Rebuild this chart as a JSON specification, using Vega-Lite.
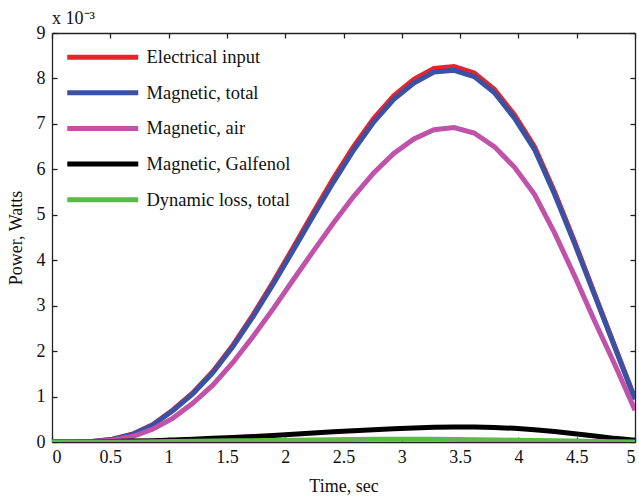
{
  "$schema": "https://vega.github.io/schema/vega-lite/v6.json",
  "width": 583,
  "height": 409,
  "autosize": {"type": "none"},
  "padding": {"left": 52, "top": 33, "right": 4, "bottom": 57},
  "background": "white",
  "config": {
    "view": {"stroke": null},
    "font": "Liberation Serif",
    "axis": {
      "labelFont": "Liberation Serif",
      "labelFontSize": 18,
      "labelColor": "#111",
      "titleFont": "Liberation Serif",
      "titleFontSize": 18,
      "titleFontWeight": "normal",
      "titleColor": "#111",
      "domainColor": "#222",
      "domainWidth": 1.3,
      "tickColor": "#222",
      "tickWidth": 1.3,
      "tickSize": -5,
      "grid": false
    },
    "legend": {
      "labelFont": "Liberation Serif",
      "labelFontSize": 18.5,
      "labelColor": "#111",
      "labelLimit": 400
    }
  },
  "title": {
    "text": "x 10⁻³",
    "anchor": "start",
    "frame": "group",
    "font": "Liberation Serif",
    "fontSize": 18,
    "fontWeight": "normal",
    "color": "#111",
    "offset": 6,
    "dy": 10
  },
  "data": {
    "values": [
      {"t": 0.0, "Electrical input": 0.0, "Magnetic, total": 0.0, "Magnetic, air": 0.0, "Magnetic, Galfenol": 0.0, "Dynamic loss, total": 0.0},
      {"t": 0.1724, "Electrical input": 0.0, "Magnetic, total": 0.0, "Magnetic, air": 0.0, "Magnetic, Galfenol": 0.000002, "Dynamic loss, total": 0.0},
      {"t": 0.3448, "Electrical input": 0.00001, "Magnetic, total": 0.00001, "Magnetic, air": 0.000005, "Magnetic, Galfenol": 0.000005, "Dynamic loss, total": 0.0},
      {"t": 0.5172, "Electrical input": 0.00006, "Magnetic, total": 0.000058, "Magnetic, air": 0.00004, "Magnetic, Galfenol": 0.00001, "Dynamic loss, total": 0.000001},
      {"t": 0.6897, "Electrical input": 0.00017, "Magnetic, total": 0.000165, "Magnetic, air": 0.00012, "Magnetic, Galfenol": 0.00002, "Dynamic loss, total": 0.000002},
      {"t": 0.8621, "Electrical input": 0.00038, "Magnetic, total": 0.00037, "Magnetic, air": 0.00028, "Magnetic, Galfenol": 0.00003, "Dynamic loss, total": 0.000005},
      {"t": 1.0345, "Electrical input": 0.0007, "Magnetic, total": 0.000685, "Magnetic, air": 0.00052, "Magnetic, Galfenol": 0.000045, "Dynamic loss, total": 0.00001},
      {"t": 1.2069, "Electrical input": 0.00108, "Magnetic, total": 0.00106, "Magnetic, air": 0.00085, "Magnetic, Galfenol": 0.00006, "Dynamic loss, total": 0.000015},
      {"t": 1.3793, "Electrical input": 0.00155, "Magnetic, total": 0.001525, "Magnetic, air": 0.00125, "Magnetic, Galfenol": 0.00008, "Dynamic loss, total": 0.00002},
      {"t": 1.5517, "Electrical input": 0.00213, "Magnetic, total": 0.0021, "Magnetic, air": 0.00175, "Magnetic, Galfenol": 0.0001, "Dynamic loss, total": 0.000025},
      {"t": 1.7241, "Electrical input": 0.0028, "Magnetic, total": 0.00276, "Magnetic, air": 0.00232, "Magnetic, Galfenol": 0.00012, "Dynamic loss, total": 0.00003},
      {"t": 1.8966, "Electrical input": 0.00352, "Magnetic, total": 0.00347, "Magnetic, air": 0.00293, "Magnetic, Galfenol": 0.000145, "Dynamic loss, total": 0.000035},
      {"t": 2.069, "Electrical input": 0.00428, "Magnetic, total": 0.00422, "Magnetic, air": 0.00357, "Magnetic, Galfenol": 0.00017, "Dynamic loss, total": 0.00004},
      {"t": 2.2414, "Electrical input": 0.00505, "Magnetic, total": 0.00498, "Magnetic, air": 0.0042, "Magnetic, Galfenol": 0.0002, "Dynamic loss, total": 0.000045},
      {"t": 2.4138, "Electrical input": 0.0058, "Magnetic, total": 0.00572, "Magnetic, air": 0.00482, "Magnetic, Galfenol": 0.000225, "Dynamic loss, total": 0.00005},
      {"t": 2.5862, "Electrical input": 0.0065, "Magnetic, total": 0.00642, "Magnetic, air": 0.0054, "Magnetic, Galfenol": 0.00025, "Dynamic loss, total": 0.000055},
      {"t": 2.7586, "Electrical input": 0.00712, "Magnetic, total": 0.00704, "Magnetic, air": 0.00592, "Magnetic, Galfenol": 0.00027, "Dynamic loss, total": 0.000058},
      {"t": 2.931, "Electrical input": 0.00762, "Magnetic, total": 0.00754, "Magnetic, air": 0.00635, "Magnetic, Galfenol": 0.00029, "Dynamic loss, total": 0.00006},
      {"t": 3.1034, "Electrical input": 0.00798, "Magnetic, total": 0.0079, "Magnetic, air": 0.00667, "Magnetic, Galfenol": 0.00031, "Dynamic loss, total": 0.00006},
      {"t": 3.2759, "Electrical input": 0.00822, "Magnetic, total": 0.00814, "Magnetic, air": 0.00687, "Magnetic, Galfenol": 0.000325, "Dynamic loss, total": 0.000058},
      {"t": 3.4483, "Electrical input": 0.00826, "Magnetic, total": 0.00818, "Magnetic, air": 0.00692, "Magnetic, Galfenol": 0.00033, "Dynamic loss, total": 0.000055},
      {"t": 3.6207, "Electrical input": 0.00812, "Magnetic, total": 0.00804, "Magnetic, air": 0.0068, "Magnetic, Galfenol": 0.00033, "Dynamic loss, total": 0.00005},
      {"t": 3.7931, "Electrical input": 0.00776, "Magnetic, total": 0.00769, "Magnetic, air": 0.0065, "Magnetic, Galfenol": 0.00032, "Dynamic loss, total": 0.000045},
      {"t": 3.9655, "Electrical input": 0.0072, "Magnetic, total": 0.00713, "Magnetic, air": 0.00605, "Magnetic, Galfenol": 0.0003, "Dynamic loss, total": 0.00004},
      {"t": 4.1379, "Electrical input": 0.0065, "Magnetic, total": 0.00644, "Magnetic, air": 0.00545, "Magnetic, Galfenol": 0.00027, "Dynamic loss, total": 0.000033},
      {"t": 4.3103, "Electrical input": 0.0055, "Magnetic, total": 0.00545, "Magnetic, air": 0.0046, "Magnetic, Galfenol": 0.00023, "Dynamic loss, total": 0.000026},
      {"t": 4.4828, "Electrical input": 0.0044, "Magnetic, total": 0.00436, "Magnetic, air": 0.00365, "Magnetic, Galfenol": 0.00018, "Dynamic loss, total": 0.00002},
      {"t": 4.6552, "Electrical input": 0.00325, "Magnetic, total": 0.00322, "Magnetic, air": 0.00265, "Magnetic, Galfenol": 0.00013, "Dynamic loss, total": 0.000013},
      {"t": 4.8276, "Electrical input": 0.0021, "Magnetic, total": 0.00208, "Magnetic, air": 0.0017, "Magnetic, Galfenol": 0.00008, "Dynamic loss, total": 0.000007},
      {"t": 5.0, "Electrical input": 0.00095, "Magnetic, total": 0.00094, "Magnetic, air": 0.0007, "Magnetic, Galfenol": 0.00004, "Dynamic loss, total": 0.000002}
    ]
  },
  "transform": [
    {"fold": ["Electrical input", "Magnetic, total", "Magnetic, air", "Magnetic, Galfenol", "Dynamic loss, total"], "as": ["series", "power"]}
  ],
  "layer": [
    {
      "mark": {"type": "line", "strokeWidth": 5, "clip": true},
      "encoding": {
        "x": {
          "field": "t", "type": "quantitative",
          "scale": {"domain": [0, 5], "nice": false, "zero": false},
          "axis": {
            "orient": "bottom",
            "values": [0, 0.5, 1, 1.5, 2, 2.5, 3, 3.5, 4, 4.5, 5],
            "labelExpr": "'' + datum.value",
            "labelPadding": 11,
            "title": "Time, sec",
            "titleBaseline": "middle",
            "titleY": 44
          }
        },
        "y": {
          "field": "power", "type": "quantitative",
          "scale": {"domain": [0, 0.009], "nice": false},
          "axis": {
            "orient": "left",
            "values": [0, 0.001, 0.002, 0.003, 0.004, 0.005, 0.006, 0.007, 0.008, 0.009],
            "labelExpr": "'' + round(datum.value * 1000)",
            "labelPadding": 12,
            "title": "Power, Watts",
            "titleBaseline": "middle",
            "titleX": -36
          }
        },
        "color": {
          "field": "series", "type": "nominal",
          "scale": {
            "domain": ["Electrical input", "Magnetic, total", "Magnetic, air", "Magnetic, Galfenol", "Dynamic loss, total"],
            "range": ["#e8232a", "#3a52a3", "#c152aa", "#000000", "#5dba48"]
          },
          "legend": {
            "orient": "none",
            "legendX": 32.75,
            "legendY": 6.25,
            "title": null,
            "padding": 0,
            "rowPadding": 7.6,
            "symbolType": "M-2.32,0H2.32",
            "symbolSize": 936,
            "symbolStrokeWidth": 5,
            "labelOffset": 25.75
          }
        }
      }
    },
    {
      "mark": {"type": "line", "strokeOpacity": 0},
      "encoding": {
        "x": {
          "field": "t", "type": "quantitative",
          "axis": {
            "orient": "top",
            "values": [0, 0.5, 1, 1.5, 2, 2.5, 3, 3.5, 4, 4.5, 5],
            "labels": false,
            "title": null
          }
        },
        "y": {
          "field": "power", "type": "quantitative",
          "axis": {
            "orient": "right",
            "values": [0, 0.001, 0.002, 0.003, 0.004, 0.005, 0.006, 0.007, 0.008, 0.009],
            "labels": false,
            "title": null
          }
        },
        "detail": {"field": "series", "type": "nominal"}
      }
    }
  ]
}
